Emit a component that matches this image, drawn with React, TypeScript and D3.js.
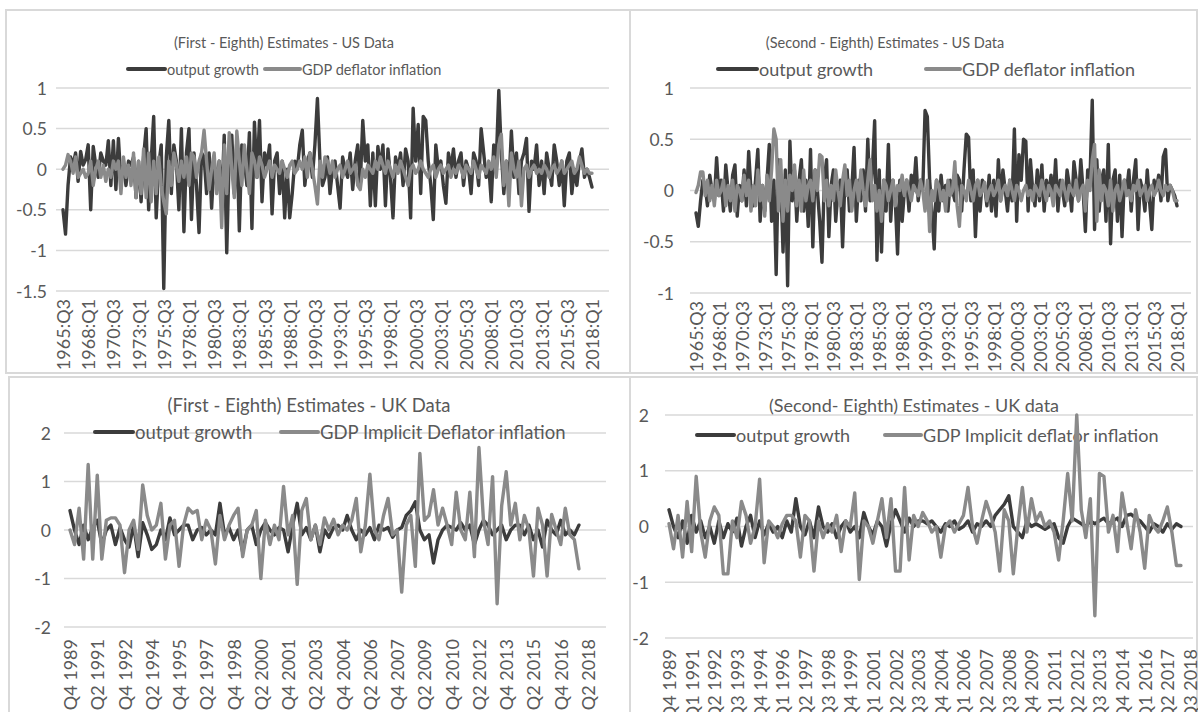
import * as React from "react";
import * as d3 from "d3";

const FONT = "Lato, 'Open Sans', Arial, sans-serif";
const TEXT = "#595959";
const GRID = "#d9d9d9";
const DARK = "#3c3c3c";
const LIGHT = "#8a8a8a";

// quarter categories (axis domain)
function quarters(y0: number, q0: number, y1: number, q1: number, fmt: (y: number, q: number) => string) {
  const out: string[] = [];
  let y = y0, q = q0;
  while (y < y1 || (y === y1 && q <= q1)) {
    out.push(fmt(y, q));
    q++;
    if (q > 4) { q = 1; y++; }
  }
  return out;
}
const usQuarters = quarters(1965, 3, 2018, 1, (y, q) => `${y}:Q${q}`);
const ukQuarters1 = quarters(1989, 4, 2018, 2, (y, q) => `Q${q} ${y}`);
const ukQuarters2 = quarters(1989, 4, 2018, 3, (y, q) => `Q${q} ${y}`);

const usTicks = ["1965:Q3","1968:Q1","1970:Q3","1973:Q1","1975:Q3","1978:Q1","1980:Q3","1983:Q1","1985:Q3","1988:Q1","1990:Q3","1993:Q1","1995:Q3","1998:Q1","2000:Q3","2003:Q1","2005:Q3","2008:Q1","2010:Q3","2013:Q1","2015:Q3","2018:Q1"];
const ukTicks1 = ["Q4 1989","Q2 1991","Q4 1992","Q2 1994","Q4 1995","Q2 1997","Q4 1998","Q2 2000","Q4 2001","Q2 2003","Q4 2004","Q2 2006","Q4 2007","Q2 2009","Q4 2010","Q2 2012","Q4 2013","Q2 2015","Q4 2016","Q2 2018"];
const ukTicks2 = ["Q4 1989","Q1 1991","Q2 1992","Q3 1993","Q4 1994","Q1 1996","Q2 1997","Q3 1998","Q4 1999","Q1 2001","Q2 2002","Q3 2003","Q4 2004","Q1 2006","Q2 2007","Q3 2008","Q4 2009","Q1 2011","Q2 2012","Q3 2013","Q4 2014","Q1 2016","Q2 2017","Q3 2018"];

// (First - Eighth) US
const us1Output = [
  -0.5, -0.8, -0.2, 0.15, 0.05, 0.2, -0.15, 0.22, 0.05, 0.12,
  0.3, -0.5, 0.28, 0.05, -0.1, 0.2, 0.1, 0.05, 0.35, -0.2,
  0.35, -0.25, 0.38, -0.15, 0.05, -0.2, 0.1, 0.05, 0.15, -0.35,
  0.1, -0.4, 0.15, 0.5, -0.5, 0.1, 0.65, -0.6, 0.05, 0.3,
  -1.47, 0.15, 0.6, -0.3, 0.3, 0.1, -0.5, 0.5, -0.77, 0.2,
  0.5, -0.62, 0.2, -0.2, -0.78, 0.2, 0.15, -0.3, 0.2, -0.48,
  0.1, -0.2, 0.1, -0.4, 0.42, -1.03, 0.2, 0.42, -0.3, 0.35,
  -0.76, 0.3, 0.1, -0.2, 0.45, -0.73, 0.58, -0.1, 0.6, -0.4,
  0.2, 0.05, 0.3, -0.55, 0.1, 0.2, -0.3, 0.1, -0.6, 0.0,
  -0.6, -0.3, 0.1, 0.0, 0.3, 0.48, -0.2, 0.1, 0.2, -0.1,
  0.3, 0.87, 0.1, -0.2, -0.1, 0.15, -0.3, 0.0, 0.1, -0.2,
  -0.48, 0.15, 0.0, -0.1, 0.2, -0.25, 0.1, 0.3, -0.2, 0.6,
  0.1, 0.3, -0.45, 0.2, -0.45, 0.28, 0.0, 0.3, -0.45, 0.25,
  -0.1, -0.6, 0.15, 0.0, 0.2, -0.2, 0.25, 0.1, -0.6, 0.75,
  0.1, 0.55, -0.3, 0.65, 0.6, 0.1, -0.2, -0.62, 0.3, 0.0,
  0.1, -0.2, -0.42, 0.2, 0.0, 0.25, -0.1, 0.1, 0.2, -0.2,
  0.1, 0.0, -0.3, 0.2, 0.1, -0.2, 0.5, 0.2, -0.1, 0.05,
  -0.4, 0.3, 0.1, 0.97, 0.2, -0.3, 0.1, -0.2, 0.47, -0.1,
  0.2, -0.3, 0.1, 0.2, 0.38, -0.52, 0.1, 0.0, 0.3, -0.2,
  0.1, -0.3, 0.2, 0.0, -0.2, 0.3, 0.1, -0.2, 0.1, -0.45,
  0.1, 0.2, -0.3, 0.0, -0.2, 0.1, 0.25, -0.1, 0.0, -0.1, -0.22,
];
const us1Deflator = [
  0.0, 0.05, 0.18, 0.1, -0.05, 0.15, -0.1, -0.05, 0.0, -0.1,
  -0.05, 0.1, -0.2, 0.0, 0.1, -0.1, 0.05, -0.15, 0.0, -0.1,
  0.1, 0.0, 0.1, -0.3, 0.15, -0.1, 0.05, -0.2, 0.2, -0.35,
  0.1, -0.3, 0.25, -0.35, 0.2, -0.4, 0.1, -0.3, 0.15, -0.2,
  -0.4, -0.55, 0.1, -0.2, 0.2, 0.05, -0.15, 0.1, -0.1, 0.15,
  -0.2, 0.2, 0.15, -0.1, 0.1, 0.2, 0.48, 0.1, -0.25, 0.0,
  0.2, -0.3, 0.1, -0.72, 0.3, -0.3, 0.45, 0.0, -0.35, 0.47,
  0.1, -0.2, 0.3, 0.0, -0.3, 0.2, 0.1, -0.1, 0.15, 0.05,
  -0.1, 0.0, 0.1, -0.1, 0.05, 0.0, -0.05, 0.1, 0.0, -0.1,
  0.05, 0.1, -0.05, 0.0, 0.1, 0.0, 0.15, -0.1, 0.2, 0.0,
  -0.2, -0.43, 0.1, -0.1, 0.15, 0.1, -0.05, 0.1, -0.1, 0.0,
  0.05, -0.1, 0.0, 0.1, -0.05, 0.0, 0.05, -0.2, -0.25, 0.0,
  -0.1, 0.05, 0.0, -0.05, 0.1, 0.0, 0.15, 0.05, -0.05, 0.1,
  0.0, -0.1, 0.05, -0.05, 0.1, 0.0, -0.1, -0.2, 0.0, 0.05,
  -0.05, 0.0, 0.1, 0.0, -0.05, -0.1, 0.0, 0.05, -0.1, 0.0,
  0.05, -0.05, 0.0, 0.05, -0.1, 0.0, -0.05, 0.05, 0.0, -0.1,
  0.05, 0.0, -0.05, 0.1, 0.0, -0.1, 0.05, 0.0, -0.05, 0.1,
  0.0, 0.15, -0.1, 0.3, 0.43, -0.2, 0.1, -0.45, 0.2, 0.0,
  -0.1, 0.1, -0.45, 0.0, 0.05, -0.1, 0.0, 0.05, -0.05, 0.0,
  -0.05, 0.05, 0.0, -0.1, 0.0, 0.05, -0.05, 0.0, 0.1, -0.05,
  0.0, 0.05, 0.1, -0.05, 0.0, 0.15, 0.05, -0.05, 0.0, -0.05, -0.05,
];

// (Second - Eighth) US
const us2Output = [
  -0.22, -0.35, -0.1, 0.1, 0.05, -0.15, 0.15, 0.0, -0.1, 0.32,
  -0.05, 0.1, -0.2, 0.25, 0.0, -0.2, 0.15, 0.25, -0.25, 0.05,
  -0.1, 0.2, -0.15, 0.38, 0.0, -0.15, 0.1, 0.4, -0.3, 0.05,
  -0.2, 0.1, 0.45, -0.3, 0.1, -0.82, 0.3, 0.1, -0.6, 0.2,
  -0.93, 0.48, -0.1, 0.2, -0.3, 0.1, 0.3, -0.2, 0.1, -0.35,
  0.4, -0.55, 0.2, 0.0, -0.3, -0.7, 0.1, 0.3, -0.45, 0.05,
  0.2, -0.3, 0.0, 0.1, -0.55, 0.1, 0.2, -0.2, 0.0, 0.42,
  -0.3, 0.1, -0.1, 0.2, -0.2, 0.5, -0.1, 0.2, 0.68, -0.68,
  0.2, -0.6, 0.1, -0.2, 0.45, -0.3, 0.1, -0.1, -0.62, 0.1,
  -0.3, 0.0, 0.1, -0.2, 0.15, 0.0, 0.32, -0.1, 0.1, 0.0,
  0.78, 0.72, 0.1, -0.2, -0.57, 0.1, -0.2, 0.15, -0.1, 0.05,
  -0.2, 0.1, 0.0, -0.1, 0.15, 0.1, -0.2, 0.2, 0.55, 0.52,
  -0.1, 0.2, -0.45, 0.1, -0.2, 0.1, 0.05, -0.15, 0.15, -0.2,
  0.1, -0.25, 0.3, -0.1, 0.2, 0.0, -0.2, 0.1, -0.1, 0.6,
  -0.3, 0.35, 0.1, 0.5, 0.48, -0.2, 0.3, 0.0, -0.15, 0.2,
  -0.1, 0.25, -0.2, 0.1, -0.05, 0.15, -0.1, 0.3, -0.2, 0.1,
  0.0, -0.15, 0.2, 0.05, -0.2, 0.28, 0.1, -0.1, 0.3, 0.0,
  -0.4, 0.2, 0.1, 0.88, -0.38, 0.3, -0.2, 0.1, 0.2, -0.3,
  0.45, -0.52, 0.1, 0.2, -0.3, 0.15, -0.45, 0.1, 0.0, 0.2,
  -0.2, 0.1, 0.3, -0.38, 0.1, 0.0, -0.2, 0.2, -0.1, -0.38,
  0.1, 0.0, 0.15, -0.1, 0.33, 0.4, -0.1, 0.05, 0.0, -0.05, -0.15,
];
const us2Deflator = [
  -0.02, 0.05, 0.18, 0.18, -0.05, 0.1, -0.1, 0.05, -0.15, 0.1,
  -0.05, 0.0, 0.1, -0.15, 0.05, -0.1, 0.1, -0.2, 0.05, 0.0,
  -0.1, 0.15, -0.05, 0.1, -0.2, 0.05, -0.15, 0.2, -0.1, 0.05,
  -0.25, 0.15, -0.1, 0.2, 0.6, 0.5, -0.2, 0.3, -0.3, 0.1,
  -0.2, 0.15, 0.0, 0.25, -0.15, 0.1, -0.2, 0.2, -0.1, 0.05,
  0.1, -0.1, 0.2, 0.0, 0.35, 0.33, -0.1, 0.1, -0.15, 0.05,
  -0.1, 0.2, 0.0, -0.15, 0.1, 0.25, -0.05, 0.1, -0.2, 0.0,
  0.1, -0.1, 0.2, 0.0, -0.15, 0.1, 0.3, -0.1, 0.05, -0.2,
  0.0, -0.3, 0.1, 0.05, -0.1, 0.0, 0.1, -0.15, 0.05, 0.0,
  0.15, -0.05, 0.1, 0.0, -0.1, 0.05, 0.0, -0.05, 0.1, 0.0,
  -0.2, 0.1, -0.4, 0.0, -0.1, 0.1, 0.05, -0.1, 0.0, -0.2,
  0.1, -0.05, 0.0, 0.28, -0.15, -0.35, 0.05, 0.0, -0.1, 0.1,
  0.0, -0.1, 0.05, 0.1, -0.05, 0.0, 0.08, -0.1, 0.0, 0.05,
  -0.05, 0.0, 0.1, -0.1, 0.0, 0.05, -0.05, 0.1, 0.0, -0.1,
  0.05, 0.0, -0.1, 0.0, 0.05, -0.05, 0.0, -0.1, 0.05, 0.0,
  -0.05, 0.1, 0.0, -0.1, 0.05, 0.0, -0.15, 0.05, 0.0, -0.05,
  0.1, 0.0, -0.1, 0.05, 0.0, -0.05, 0.1, -0.1, 0.0, 0.05,
  -0.2, 0.1, 0.0, 0.3, 0.45, -0.3, 0.2, -0.1, 0.05, 0.0,
  -0.15, 0.1, -0.2, 0.0, 0.05, -0.1, 0.0, 0.1, -0.05, 0.0,
  -0.1, 0.05, 0.0, 0.1, -0.05, 0.0, 0.05, -0.1, 0.0, 0.05,
  -0.05, 0.0, 0.1, 0.0, -0.05, 0.05, 0.0, 0.05, 0.0, -0.1, -0.1,
];

// (First - Eighth) UK
const uk1Output = [
  0.4, 0.0, -0.3, 0.1, -0.2, 0.05, 0.2, -0.3, 0.0, 0.1,
  -0.3, 0.05, -0.2, -0.35, 0.1, -0.55, 0.15, -0.1, -0.4, -0.3,
  0.0, -0.2, 0.25, -0.1, 0.0, 0.1, 0.1, -0.2, 0.0, 0.05,
  -0.1, 0.0, -0.1, 0.55, -0.1, 0.05, -0.2, 0.0, -0.45, 0.0,
  0.1, -0.3, 0.0, 0.15, 0.0, -0.1, 0.05, 0.0, -0.45, 0.1,
  0.55, -0.1, 0.05, -0.2, 0.1, -0.45, 0.0, -0.15, 0.05, 0.1,
  0.0, 0.3, 0.0, -0.2, 0.0, -0.1, 0.05, -0.2, 0.1, 0.0,
  0.05, -0.15, 0.0, 0.05, 0.3, 0.4, 0.58, 0.0, -0.2, -0.1,
  -0.68, -0.2, 0.0, 0.1, 0.05, 0.0, 0.15, 0.0, 0.1, -0.3,
  0.0, 0.2, 0.1, -0.1, 0.0, 0.1, -0.2, 0.0, 0.1, 0.1,
  -0.1, 0.1, -0.2, 0.0, -0.35, 0.2, 0.0, -0.1, 0.2, -0.1,
  0.0, -0.1, 0.1,
];
const uk1Deflator = [
  0.0, -0.3, 0.45, -0.6, 1.35, -0.6, 1.13, -0.6, 0.2, 0.25,
  0.25, 0.1, -0.88, 0.0, 0.2, -0.4, 0.93, 0.3, 0.0, 0.1,
  0.55, -0.6, 0.1, 0.2, -0.75, 0.1, 0.45, 0.35, 0.4, -0.2,
  0.2, 0.0, -0.7, 0.3, -0.2, 0.1, 0.3, 0.45, -0.55, 0.0,
  0.1, 0.4, -1.0, 0.2, -0.3, 0.1, -0.2, 0.9, -0.1, 0.3,
  -1.12, 0.4, 0.65, -0.2, 0.1, -0.3, 0.25, 0.0, 0.22, -0.1,
  0.1, 0.0, 0.2, 0.65, -0.45, 0.1, 1.15, 0.0, -0.2, 0.3,
  0.65, -0.1, 0.0, -1.28, 0.1, 0.3, -0.75, 1.58, 0.2, 0.3,
  0.83, 0.1, 0.45, 0.1, -0.3, 0.78, 0.0, -0.2, 0.78, -0.55,
  1.7, 0.2, -0.3, 1.1, -1.52, 0.5, 1.2, 0.1, 0.55, -0.2,
  0.3, 0.0, -0.95, 0.45, 0.1, -0.95, 0.32, 0.0, -0.3, 0.45,
  -0.1, -0.2, -0.8,
];

// (Second - Eighth) UK
const uk2Output = [
  0.3, 0.0, -0.2, 0.1, -0.3, 0.2, -0.1, 0.1, -0.2, 0.0,
  -0.3, 0.1, -0.2, 0.05, -0.1, 0.15, -0.35, 0.0, 0.2, -0.2,
  0.1, -0.15, 0.05, -0.1, 0.0, -0.2, 0.1, -0.1, 0.5, 0.0,
  -0.15, 0.1, -0.2, 0.35, 0.0, -0.1, 0.05, -0.2, 0.0, 0.1,
  -0.1, 0.0, -0.2, 0.25, 0.0, -0.15, 0.1, 0.0, -0.35, 0.05,
  0.3, 0.1, -0.1, 0.15, 0.0, 0.1, 0.1, 0.05, 0.1, 0.0,
  -0.1, 0.05, 0.0, 0.1, -0.05, 0.0, 0.1, -0.1, 0.05, 0.0,
  0.1, 0.0, 0.2, 0.3, 0.4, 0.55, 0.0, -0.1, -0.2, 0.1,
  0.0, 0.05, 0.0, -0.05, 0.0, 0.05, -0.2, -0.3, 0.0, 0.15,
  0.1, 0.05, 0.0, 0.1, 0.05, 0.1, 0.15, 0.05, 0.1, 0.15,
  0.0, 0.2, 0.22, 0.15, 0.1, 0.0, -0.1, 0.05, 0.0, -0.1,
  0.05, -0.05, 0.05, 0.0,
];
const uk2Deflator = [
  0.05, -0.4, 0.2, -0.55, 0.45, -0.45, 0.9, -0.1, -0.55, 0.1,
  0.35, 0.2, -0.85, -0.85, 0.1, -0.2, 0.45, 0.2, -0.3, 0.0,
  0.85, -0.65, 0.1, 0.0, -0.2, 0.05, 0.2, 0.2, 0.1, -0.55,
  0.2, 0.1, -0.8, 0.1, -0.2, 0.05, -0.1, 0.2, -0.45, 0.1,
  0.0, 0.6, -0.95, 0.1, 0.0, -0.3, 0.1, 0.5, -0.2, 0.5,
  -0.8, -0.8, 0.7, -0.6, 0.2, 0.0, 0.25, 0.1, -0.1, 0.0,
  -0.55, 0.0, 0.1, -0.1, 0.05, 0.2, 0.7, 0.0, -0.3, 0.1,
  0.45, 0.2, -0.1, -0.8, 0.3, 0.1, -0.85, 0.0, 0.7, -0.1,
  0.5, 0.1, 0.25, 0.0, 0.1, -0.1, -0.6, 0.1, 0.95, 0.1,
  2.0, 0.3, -0.2, 0.5, -1.6, 0.95, 0.9, -0.1, 0.2, -0.45,
  0.6, 0.1, -0.4, 0.3, -0.1, -0.75, 0.2, 0.0, -0.1, 0.1,
  0.35, -0.1, -0.7, -0.7,
];

type PanelCfg = {
  frame: [number, number, number, number];
  title: string; titleX: number; titleY: number; titleSize: number;
  legendY: number; legendSize: number;
  legend: { label: string; color: string; x1: number; x2: number }[];
  categories: string[]; ticks: string[];
  xRange: [number, number]; gridX: [number, number];
  yTicks: number[]; yRange: [number, number]; yLabelX: number;
  xLabelTop: number;
  series: { values: number[]; color: string }[];
};

const panels: PanelCfg[] = [
  {
    frame: [6, 10, 624, 363],
    title: "(First - Eighth) Estimates - US Data", titleX: 284, titleY: 42, titleSize: 14.5,
    legendY: 69, legendSize: 14.5,
    legend: [
      { label: "output growth", color: DARK, x1: 128, x2: 165 },
      { label: "GDP deflator inflation", color: LIGHT, x1: 265, x2: 300 },
    ],
    categories: usQuarters, ticks: usTicks,
    xRange: [63, 592], gridX: [56, 609],
    yTicks: [1, 0.5, 0, -0.5, -1, -1.5], yRange: [88, 291], yLabelX: 47,
    xLabelTop: 299,
    series: [{ values: us1Output, color: DARK }, { values: us1Deflator, color: LIGHT }],
  },
  {
    frame: [630, 10, 567, 363],
    title: "(Second - Eighth) Estimates - US Data", titleX: 885, titleY: 42, titleSize: 14.5,
    legendY: 69, legendSize: 18,
    legend: [
      { label: "output growth", color: DARK, x1: 718, x2: 757 },
      { label: "GDP deflator inflation", color: LIGHT, x1: 926, x2: 960 },
    ],
    categories: usQuarters, ticks: usTicks,
    xRange: [696, 1177], gridX: [690, 1191],
    yTicks: [1, 0.5, 0, -0.5, -1], yRange: [88, 293], yLabelX: 674,
    xLabelTop: 301,
    series: [{ values: us2Output, color: DARK }, { values: us2Deflator, color: LIGHT }],
  },
  {
    frame: [9, 377, 621, 345],
    title: "(First - Eighth) Estimates - UK Data", titleX: 309, titleY: 405, titleSize: 18.5,
    legendY: 432, legendSize: 18.5,
    legend: [
      { label: "output growth", color: DARK, x1: 95, x2: 133 },
      { label: "GDP Implicit Deflator inflation", color: LIGHT, x1: 281, x2: 318 },
    ],
    categories: ukQuarters1, ticks: ukTicks1,
    xRange: [70, 588], gridX: [64, 606],
    yTicks: [2, 1, 0, -1, -2], yRange: [433, 627], yLabelX: 51,
    xLabelTop: 639,
    series: [{ values: uk1Output, color: DARK }, { values: uk1Deflator, color: LIGHT }],
  },
  {
    frame: [630, 377, 567, 345],
    title: "(Second- Eighth) Estimates - UK data", titleX: 914, titleY: 405, titleSize: 18,
    legendY: 435, legendSize: 18,
    legend: [
      { label: "output growth", color: DARK, x1: 697, x2: 734 },
      { label: "GDP Implicit deflator inflation", color: LIGHT, x1: 885, x2: 921 },
    ],
    categories: ukQuarters2, ticks: ukTicks2,
    xRange: [669, 1190], gridX: [665, 1193],
    yTicks: [2, 1, 0, -1, -2], yRange: [415, 638], yLabelX: 649,
    xLabelTop: 649,
    series: [{ values: uk2Output, color: DARK }, { values: uk2Deflator, color: LIGHT }],
  },
];

const Panel = ({ cfg }: { cfg: PanelCfg }) => {
  const x = d3.scalePoint<string>().domain(cfg.categories).range(cfg.xRange);
  const yMax = cfg.yTicks[0];
  const yMin = cfg.yTicks[cfg.yTicks.length - 1];
  const y = d3.scaleLinear().domain([yMax, yMin]).range(cfg.yRange);
  const line = d3.line<number>()
    .x((_, i) => x(cfg.categories[i]) as number)
    .y((d) => y(d));
  const [fx, fy, fw, fh] = cfg.frame;

  return (
    <g>
      <rect x={fx} y={fy} width={fw} height={fh} fill="none" stroke={GRID} strokeWidth={2} />
      {cfg.yTicks.map((t) => (
        <g key={"y" + t}>
          <line x1={cfg.gridX[0]} x2={cfg.gridX[1]} y1={y(t)} y2={y(t)} stroke={GRID} strokeWidth={1.5} />
          <text x={cfg.yLabelX} y={y(t)} textAnchor="end" dominantBaseline="central" fontSize={17.5} fill={TEXT}>
            {String(t)}
          </text>
        </g>
      ))}
      <text x={cfg.titleX} y={cfg.titleY} textAnchor="middle" dominantBaseline="central" fontSize={cfg.titleSize} fill={TEXT}>
        {cfg.title}
      </text>
      {cfg.legend.map((l) => (
        <g key={l.label}>
          <line x1={l.x1} x2={l.x2} y1={cfg.legendY} y2={cfg.legendY} stroke={l.color} strokeWidth={4} strokeLinecap="round" />
          <text x={l.x2 + 2} y={cfg.legendY} dominantBaseline="central" fontSize={cfg.legendSize} fill={TEXT}>
            {l.label}
          </text>
        </g>
      ))}
      {cfg.ticks.map((t) => (
        <text
          key={t}
          transform={`translate(${x(t)},${cfg.xLabelTop}) rotate(-90)`}
          textAnchor="end"
          dominantBaseline="central"
          fontSize={18}
          fill={TEXT}
        >
          {t}
        </text>
      ))}
      {cfg.series.map((s, i) => (
        <path
          key={"s" + i}
          d={line(s.values) || ""}
          fill="none"
          stroke={s.color}
          strokeWidth={3.4}
          strokeLinejoin="round"
          strokeLinecap="round"
        />
      ))}
    </g>
  );
};

export default function App() {
  return (
    <svg
      width={1198}
      height={712}
      style={{ position: "absolute", left: 0, top: 0, background: "#fff", fontFamily: FONT }}
    >
      {panels.map((p, i) => (
        <Panel key={i} cfg={p} />
      ))}
    </svg>
  );
}
